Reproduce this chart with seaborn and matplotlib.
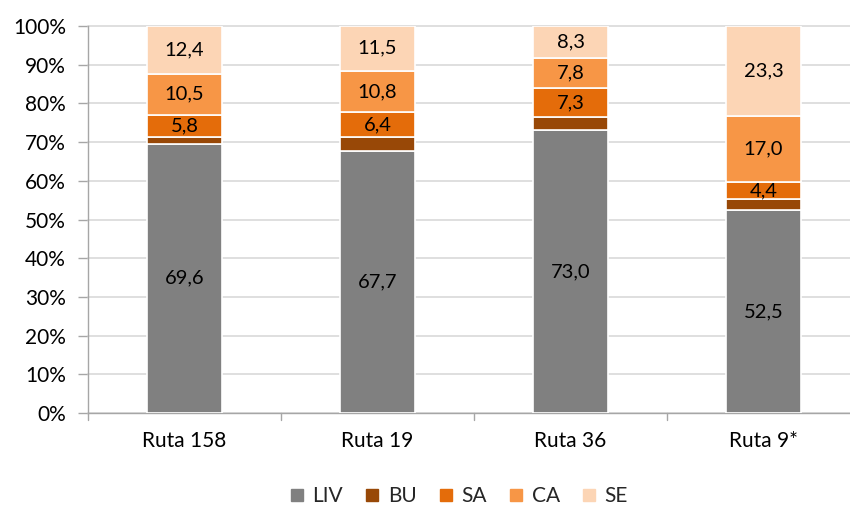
import matplotlib
matplotlib.use("Agg")
import matplotlib.pyplot as plt
from matplotlib.lines import Line2D
import numpy as np
import pandas as pd
import seaborn as sns

# Share of each component per route (percent)
routes = ["Ruta 158", "Ruta 19", "Ruta 36", "Ruta 9*"]
liv = [69.6, 67.7, 73.0, 52.5]
bu = [1.7, 3.6, 3.6, 2.8]
sa = [5.8, 6.4, 7.3, 4.4]
ca = [10.5, 10.8, 7.8, 17.0]
se = [12.4, 11.5, 8.3, 23.3]

series_names = ["LIV", "BU", "SA", "CA", "SE"]
series_values = [liv, bu, sa, ca, se]
series_colors = ["#808080", "#984807", "#E46C0A", "#F79646", "#FCD5B5"]
labelled = {"LIV", "SA", "CA", "SE"}
y_ticks = [0, 10, 20, 30, 40, 50, 60, 70, 80, 90, 100]

sns.set_theme(style="white")
plt.rcParams["font.family"] = ["Lato", "DejaVu Sans"]

fig = plt.figure(figsize=(8.5, 5.07), dpi=100)
ax = fig.add_axes([88 / 850, (507 - 413) / 507, (850 - 88) / 850, (413 - 26) / 507])

bottom = np.zeros(len(routes))
for name, vals, col in zip(series_names, series_values, series_colors):
    df = pd.DataFrame({"ruta": routes, "valor": vals})
    sns.barplot(data=df, x="ruta", y="valor", order=routes, color=col,
                bottom=bottom.copy(), width=0.39, edgecolor="white",
                linewidth=1.2, saturation=1, errorbar=None, ax=ax, zorder=3)
    if name in labelled:
        for i, v in enumerate(vals):
            ax.text(i, bottom[i] + v / 2, f"{v:.1f}".replace(".", ","),
                    ha="center", va="center", fontsize=14.5, color="#000000",
                    zorder=5)
    bottom += np.array(vals)

ax.set_ylim(0, 100)
ax.set_xlim(-0.5, 3.5 - 10 / 193)
ax.set_yticks(y_ticks)
ax.set_yticklabels([f"{t}%" for t in y_ticks], fontsize=15, color="#000000")
ax.set_xlabel("")
ax.set_ylabel("")
ax.tick_params(axis="x", labelsize=15, colors="#000000", length=0, pad=13)
ax.tick_params(axis="y", length=7, width=1, color="#A6A6A6", direction="out",
               left=True, pad=9)

for t in y_ticks:
    ax.axhline(t, color="#D9D9D9", linewidth=1.2, zorder=1, clip_on=False)

for s in ["top", "right"]:
    ax.spines[s].set_visible(False)
ax.spines["left"].set_color("#A6A6A6")
ax.spines["bottom"].set_color("#A6A6A6")
ax.spines["left"].set_linewidth(1)
ax.spines["bottom"].set_linewidth(1)

# Category separator ticks below the x axis
for xb in [-0.5, 0.5, 1.5, 2.5]:
    ax.plot([xb, xb], [0, -1.8], color="#A6A6A6", linewidth=1, clip_on=False,
            zorder=2)

handles = [Line2D([0], [0], marker="s", linestyle="none", markersize=9,
                  markerfacecolor=c, markeredgecolor=c) for c in series_colors]
fig.legend(handles, series_names, loc="center", bbox_to_anchor=(0.538, 0.022),
           ncol=5, frameon=False, fontsize=15, handletextpad=0.25,
           columnspacing=0.9, handlelength=1.0)

fig.savefig("out.png", dpi=100, facecolor="white")
